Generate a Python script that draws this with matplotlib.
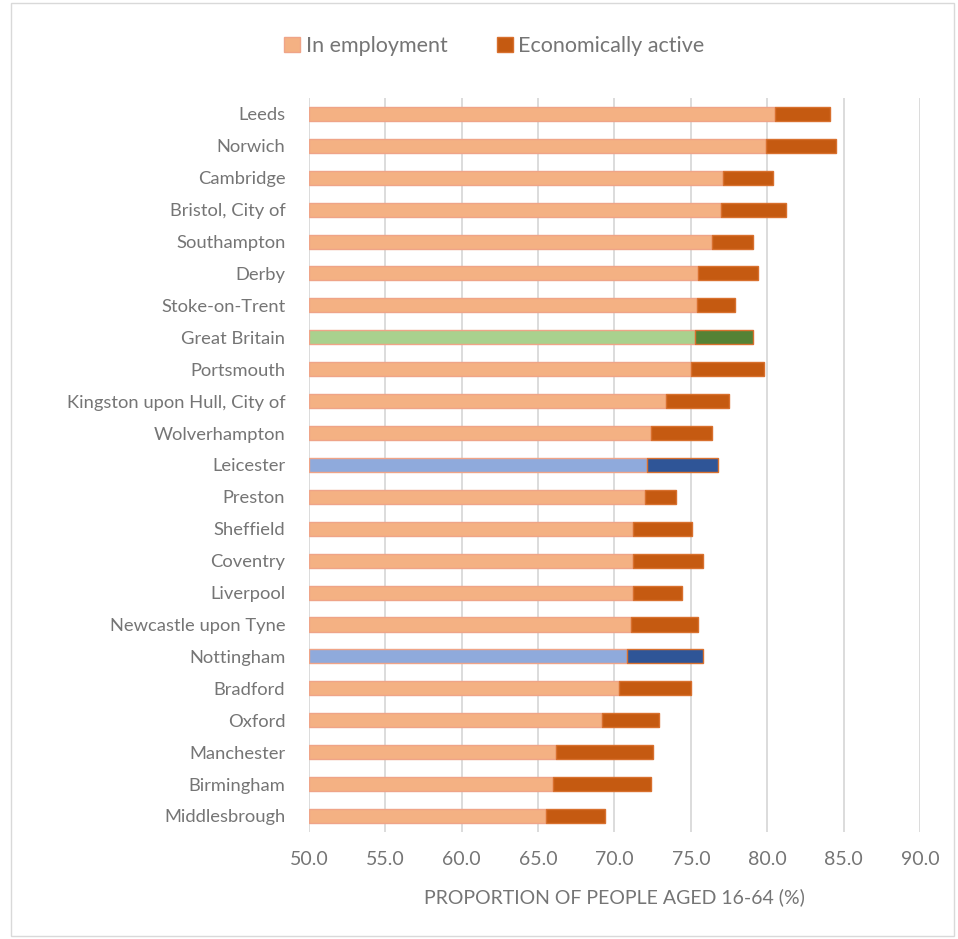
import numpy as np
import matplotlib
matplotlib.use("Agg")
import matplotlib.pyplot as plt
from matplotlib.patches import Rectangle, Patch

# values (top to bottom)
areas = ["Leeds", "Norwich", "Cambridge", "Bristol, City of", "Southampton", "Derby",
         "Stoke-on-Trent", "Great Britain", "Portsmouth", "Kingston upon Hull, City of",
         "Wolverhampton", "Leicester", "Preston", "Sheffield", "Coventry", "Liverpool",
         "Newcastle upon Tyne", "Nottingham", "Bradford", "Oxford", "Manchester",
         "Birmingham", "Middlesbrough"]
in_employment = [80.5, 79.9, 77.1, 77.0, 76.4, 75.5, 75.4, 75.3, 75.0, 73.4, 72.4, 72.1,
                 72.0, 71.2, 71.2, 71.2, 71.1, 70.8, 70.3, 69.2, 66.2, 66.0, 65.5]
econ_active = [84.1, 84.5, 80.4, 81.2, 79.1, 79.4, 77.9, 79.1, 79.8, 77.5, 76.4, 76.8,
               74.0, 75.1, 75.8, 74.4, 75.5, 75.8, 75.0, 72.9, 72.5, 72.4, 69.4]
xticks = [50, 55, 60, 65, 70, 75, 80, 85, 90]

grey = "#757575"
font = "Lato"

def colours(name):
    if name == "Great Britain":
        return "#A9D18E", "#548235"
    if name in ("Leicester", "Nottingham"):
        return "#8FAADC", "#2F5597"
    return "#F4B183", "#C55A11"

fig = plt.figure(figsize=(9.58, 9.39), dpi=100)
ax = fig.add_axes([0.3225, 0.114, 0.6378, 0.7817])

y = np.arange(len(areas))
light = [colours(a)[0] for a in areas]
dark = [colours(a)[1] for a in areas]
emp = np.array(in_employment)
act = np.array(econ_active)

ax.barh(y, emp - 50, left=50, height=0.44, color=light, edgecolor="#EFA488", linewidth=1, zorder=3)
ax.barh(y, act - emp, left=emp, height=0.44, color=dark, edgecolor="#D8702E", linewidth=1, zorder=3)

ax.set_xlim(50, 90)
ax.set_ylim(len(areas) - 0.5, -0.5)
ax.set_xticks(xticks)
ax.set_xticklabels([f"{v:.1f}" for v in xticks])
ax.set_yticks(y)
ax.set_yticklabels(areas)
ax.tick_params(length=0, colors=grey)
ax.tick_params(axis="x", pad=14, labelsize=14)
ax.tick_params(axis="y", pad=17, labelsize=13.2)
for lab in ax.get_xticklabels() + ax.get_yticklabels():
    lab.set_fontfamily(font)

ax.grid(axis="x", color="#D9D9D9", linewidth=1.3, zorder=0)
for s in ["top", "right", "bottom", "left"]:
    ax.spines[s].set_visible(False)

ax.set_xlabel("PROPORTION OF PEOPLE AGED 16-64 (%)", color=grey, fontsize=14,
              fontfamily=font, labelpad=14)

handles = [Patch(facecolor="#F4B183", edgecolor="#EFA488", label="In employment"),
           Patch(facecolor="#C55A11", edgecolor="#D8702E", label="Economically active")]
leg = fig.legend(handles=handles, loc="center", bbox_to_anchor=(0.516, 0.951), ncol=2,
                 frameon=False, prop={"family": font, "size": 15.5},
                 handlelength=0.75, handleheight=0.75, columnspacing=2.3, handletextpad=0.25)
for t in leg.get_texts():
    t.set_color(grey)

# outer chart border
fig.patches.append(Rectangle((0.011, 0.003), 0.985, 0.994, transform=fig.transFigure,
                             fill=False, edgecolor="#D9D9D9", linewidth=1))

fig.savefig("out.png", dpi=100, facecolor="white")
